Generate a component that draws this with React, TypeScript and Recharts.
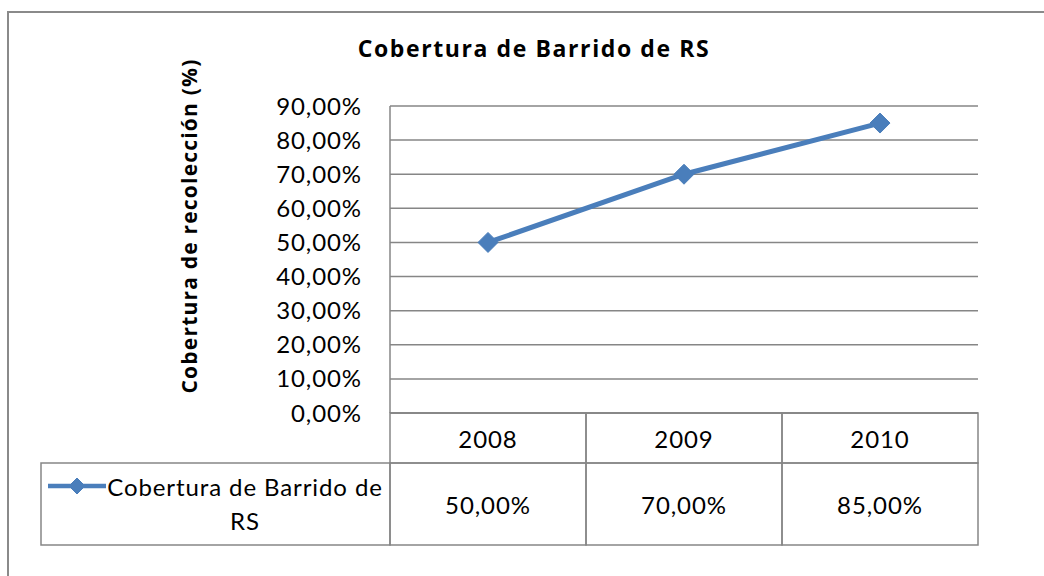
import { LineChart, Line, XAxis, YAxis, CartesianGrid } from "recharts";

const years = ["2008", "2009", "2010"];
const coverage = [0.5, 0.7, 0.85];
const yTicks = [0, 0.1, 0.2, 0.3, 0.4, 0.5, 0.6, 0.7, 0.8, 0.9];
const seriesName = "Cobertura de Barrido de RS";
const chartTitle = "Cobertura de Barrido de RS";
const yAxisTitle = "Cobertura de recolección (%)";

const data = years.map((year, i) => ({ year, value: coverage[i] }));

const FONT = "Lato, 'Open Sans', sans-serif";
const BOLD_FONT = "'Open Sans', Lato, sans-serif";
const LINE_COLOR = "#4A7EBB";
const GRID = "#868686";

// layout of the plot area (page pixels)
const PLOT_LEFT = 390;
const PLOT_RIGHT = 978;
const PLOT_TOP = 106;
const PLOT_BOTTOM = 413;
const HEADER_H = 50;
const VALUE_H = 82;
const LEGEND_LEFT = 41;
const BAND = (PLOT_RIGHT - PLOT_LEFT) / years.length;

const pct = (v: number) => (v * 100).toFixed(2).replace(".", ",") + "%";

const cellText = { fontSize: 24, fontFamily: FONT, fill: "#000", letterSpacing: 0.9 };

function Diamond({ cx, cy, r = 10 }: { cx: number; cy: number; r?: number }) {
  return (
    <polygon
      points={`${cx},${cy - r} ${cx + r},${cy} ${cx},${cy + r} ${cx - r},${cy}`}
      fill={LINE_COLOR}
      stroke={LINE_COLOR}
    />
  );
}

// each x tick draws its column of the data table
function TableTick(props: any) {
  const { x, payload } = props;
  const index = props.index ?? payload.index ?? 0;
  const left = x - BAND / 2;
  const rowTop = PLOT_BOTTOM + HEADER_H;
  return (
    <g>
      <rect x={left} y={PLOT_BOTTOM} width={BAND} height={HEADER_H} fill="none" stroke={GRID} strokeWidth={1.5} />
      <rect x={left} y={rowTop} width={BAND} height={VALUE_H} fill="none" stroke={GRID} strokeWidth={1.5} />
      <text x={x} y={PLOT_BOTTOM + HEADER_H / 2} textAnchor="middle" dominantBaseline="central" {...cellText}>
        {payload.value}
      </text>
      <text x={x} y={rowTop + VALUE_H / 2} textAnchor="middle" dominantBaseline="central" {...cellText}>
        {pct(coverage[index])}
      </text>
      {index === 0 && (
        <g>
          <rect x={LEGEND_LEFT} y={rowTop} width={PLOT_LEFT - LEGEND_LEFT} height={VALUE_H} fill="none" stroke={GRID} strokeWidth={1.5} />
          <line x1={48} x2={106} y1={486} y2={486} stroke={LINE_COLOR} strokeWidth={4.5} />
          <Diamond cx={77} cy={486} r={8} />
          <text x={245} y={486} textAnchor="middle" dominantBaseline="central" {...cellText}>
            {seriesName.replace(/ RS$/, "")}
          </text>
          <text x={245} y={520} textAnchor="middle" dominantBaseline="central" {...cellText}>
            RS
          </text>
        </g>
      )}
    </g>
  );
}

export default function App() {
  return (
    <div style={{ position: "absolute", left: 0, top: 0, width: 1044, height: 576, overflow: "hidden", background: "#fff" }}>
      <div
        style={{
          position: "absolute",
          left: 7,
          top: 11,
          width: 1100,
          height: 700,
          border: "2px solid #8a8a8a",
          boxSizing: "border-box",
        }}
      />
      <div
        style={{
          position: "absolute",
          left: 234,
          top: 37,
          width: 600,
          lineHeight: 1,
          textAlign: "center",
          fontFamily: BOLD_FONT,
          fontWeight: 700,
          fontSize: 23,
          letterSpacing: 1.6,
          color: "#000",
        }}
      >
        {chartTitle}
      </div>
      <div
        style={{
          position: "absolute",
          left: 189 - 200,
          top: 226 - 14,
          width: 400,
          height: 28,
          lineHeight: "28px",
          textAlign: "center",
          transform: "rotate(-90deg)",
          fontFamily: BOLD_FONT,
          fontWeight: 700,
          fontSize: 21,
          letterSpacing: 1.2,
          color: "#000",
        }}
      >
        {yAxisTitle}
      </div>
      <div style={{ position: "absolute", left: 0, top: 0 }}>
        <LineChart
          width={1044}
          height={576}
          data={data}
          margin={{ top: PLOT_TOP, right: 1044 - PLOT_RIGHT, left: PLOT_LEFT - 100, bottom: 576 - PLOT_BOTTOM - 140 }}
        >
          <CartesianGrid horizontal vertical={false} stroke={GRID} strokeWidth={1.5} />
          <XAxis
            dataKey="year"
            height={140}
            interval={0}
            tickLine={false}
            tickSize={0}
            axisLine={{ stroke: GRID, strokeWidth: 1.5 }}
            padding={{ left: BAND / 2, right: BAND / 2 }}
            tick={<TableTick />}
          />
          <YAxis
            width={100}
            domain={[0, 0.9]}
            ticks={yTicks}
            tickFormatter={pct}
            tickLine={false}
            tickSize={0}
            tickMargin={28}
            axisLine={{ stroke: GRID, strokeWidth: 1.5 }}
            tick={cellText}
          />
          <Line
            type="linear"
            dataKey="value"
            stroke={LINE_COLOR}
            strokeWidth={5}
            dot={(p: any) => <Diamond key={p.index} cx={p.cx} cy={p.cy} />}
            activeDot={false}
            isAnimationActive={false}
          />
        </LineChart>
      </div>
    </div>
  );
}
